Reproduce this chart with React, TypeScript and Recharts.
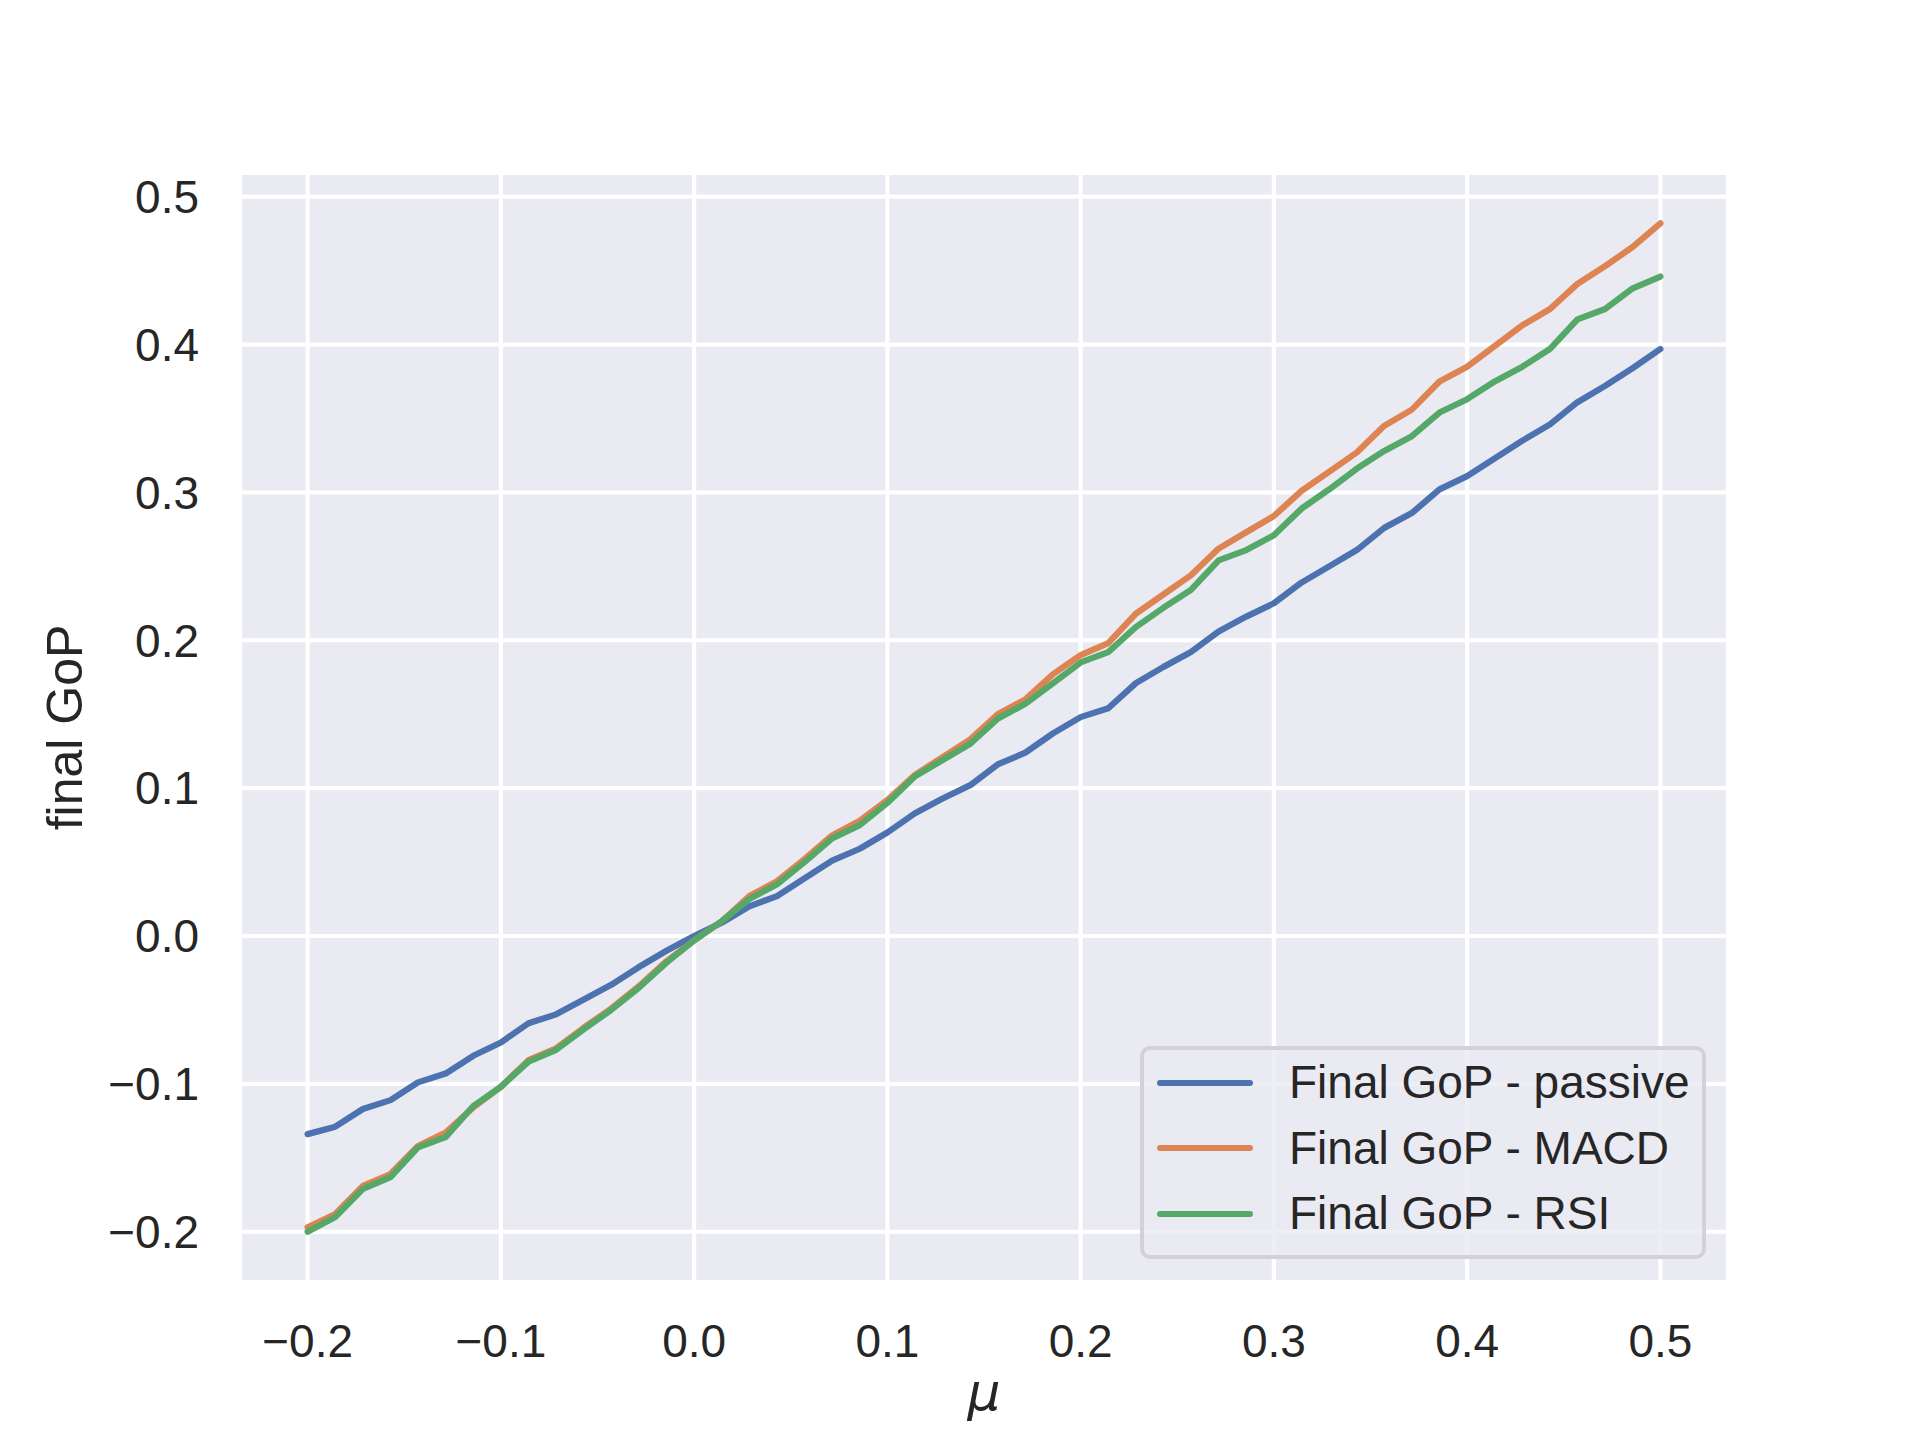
import React from "react";
import {
  LineChart,
  Line,
  XAxis,
  YAxis,
  CartesianGrid,
  Label,
} from "recharts";

// mu values on the x axis (50 steps of 1/70 from -0.2 to 0.5)
const mu = [
  -0.2, -0.1857, -0.1714, -0.1571, -0.1429, -0.1286, -0.1143, -0.1, -0.0857,
  -0.0714, -0.0571, -0.0429, -0.0286, -0.0143, 0, 0.0143, 0.0286, 0.0429,
  0.0571, 0.0714, 0.0857, 0.1, 0.1143, 0.1286, 0.1429, 0.1571, 0.1714, 0.1857,
  0.2, 0.2143, 0.2286, 0.2429, 0.2571, 0.2714, 0.2857, 0.3, 0.3143, 0.3286,
  0.3429, 0.3571, 0.3714, 0.3857, 0.4, 0.4143, 0.4286, 0.4429, 0.4571, 0.4714,
  0.4857, 0.5,
];

const passive = [
  -0.134, -0.129, -0.117, -0.111, -0.099, -0.093, -0.081, -0.072, -0.059,
  -0.053, -0.043, -0.033, -0.021, -0.01, 0.0, 0.009, 0.02, 0.027, 0.039, 0.051,
  0.059, 0.07, 0.083, 0.093, 0.102, 0.116, 0.124, 0.137, 0.148, 0.154, 0.171,
  0.182, 0.192, 0.206, 0.216, 0.225, 0.239, 0.25, 0.261, 0.276, 0.286, 0.302,
  0.311, 0.323, 0.335, 0.346, 0.361, 0.372, 0.384, 0.397,
];

const macd = [
  -0.197, -0.188, -0.169, -0.161, -0.142, -0.133, -0.116, -0.102, -0.084,
  -0.076, -0.062, -0.049, -0.034, -0.017, -0.003, 0.01, 0.027, 0.037, 0.052,
  0.068, 0.078, 0.092, 0.109, 0.121, 0.133, 0.15, 0.16, 0.177, 0.19, 0.198,
  0.218, 0.231, 0.244, 0.262, 0.273, 0.284, 0.301, 0.314, 0.327, 0.345, 0.356,
  0.375, 0.385, 0.399, 0.413, 0.424, 0.441, 0.453, 0.466, 0.482,
];

const rsi = [
  -0.2, -0.19, -0.171, -0.163, -0.143, -0.136, -0.115, -0.102, -0.085, -0.077,
  -0.063, -0.05, -0.035, -0.018, -0.003, 0.01, 0.025, 0.035, 0.05, 0.066,
  0.075, 0.09, 0.108, 0.119, 0.13, 0.147, 0.157, 0.171, 0.185, 0.192, 0.209,
  0.222, 0.234, 0.254, 0.261, 0.271, 0.289, 0.302, 0.316, 0.328, 0.338, 0.354,
  0.363, 0.375, 0.385, 0.397, 0.417, 0.424, 0.438, 0.446,
];

const xTicks = [-0.2, -0.1, 0, 0.1, 0.2, 0.3, 0.4, 0.5];
const yTicks = [-0.2, -0.1, 0, 0.1, 0.2, 0.3, 0.4, 0.5];

const series = [
  { key: "passive", name: "Final GoP - passive", color: "#4c72b0" },
  { key: "macd", name: "Final GoP - MACD", color: "#dd8452" },
  { key: "rsi", name: "Final GoP - RSI", color: "#55a868" },
];

const data = mu.map((m, i) => ({
  mu: m,
  passive: passive[i],
  macd: macd[i],
  rsi: rsi[i],
}));

const FONT = "'Liberation Sans', Arial, Helvetica, sans-serif";
const TEXT = "#262626";

const fmt = (v: number) => (v < 0 ? "\u2212" : "") + Math.abs(v).toFixed(1);

function ChartLegend() {
  return (
    <div
      style={{
        position: "absolute",
        left: 1140,
        top: 1046,
        width: 566,
        height: 213,
        boxSizing: "border-box",
        border: "4px solid rgba(204,204,204,0.8)",
        borderRadius: 10,
        background: "rgba(234,234,242,0.8)",
        fontFamily: FONT,
        fontSize: 46,
        color: TEXT,
      }}
    >
      {series.map((s) => (
        <div
          key={s.key}
          style={{ display: "flex", alignItems: "center", height: 65.5 }}
        >
          <div
            style={{
              marginLeft: 13,
              width: 96,
              height: 6.25,
              borderRadius: 3,
              background: s.color,
            }}
          />
          <span style={{ marginLeft: 36, lineHeight: "65.5px", whiteSpace: "nowrap" }}>
            {s.name}
          </span>
        </div>
      ))}
    </div>
  );
}

export default function App() {
  return (
    <div
      style={{
        position: "absolute",
        left: 0,
        top: 0,
        width: 1920,
        height: 1440,
        background: "#ffffff",
      }}
    >
      <LineChart
        width={1920}
        height={1440}
        data={data}
        margin={{ top: 173, right: 192, bottom: 0, left: 0 }}
      >
        <CartesianGrid
          fill="#eaeaf2"
          stroke="#ffffff"
          strokeWidth={4.2}
          strokeDasharray=""
        />
        <XAxis
          dataKey="mu"
          type="number"
          domain={[-0.235, 0.535]}
          ticks={xTicks}
          allowDataOverflow
          height={158}
          axisLine={false}
          tickLine={false}
          tickSize={0}
          tickMargin={42}
          tickFormatter={fmt}
          tick={{ fill: TEXT, fontSize: 46, fontFamily: FONT }}
        >
          <Label
            content={({ viewBox }: any) => (
              <text
                x={viewBox.x + viewBox.width / 2}
                y={1410}
                textAnchor="middle"
                fill={TEXT}
                fontSize={52}
                fontStyle="italic"
                fontFamily="'DejaVu Sans', sans-serif"
              >
                μ
              </text>
            )}
          />
        </XAxis>
        <YAxis
          type="number"
          domain={[-0.234, 0.516]}
          ticks={yTicks}
          allowDataOverflow
          width={240}
          axisLine={false}
          tickLine={false}
          tickSize={0}
          tickMargin={41}
          tickFormatter={fmt}
          tick={{ fill: TEXT, fontSize: 46, fontFamily: FONT }}
        >
          <Label
            content={({ viewBox }: any) => {
              const cy = viewBox.y + viewBox.height / 2;
              return (
                <text
                  x={82}
                  y={cy}
                  transform={`rotate(-90, 82, ${cy})`}
                  textAnchor="middle"
                  fill={TEXT}
                  fontSize={50}
                  fontFamily={FONT}
                >
                  final GoP
                </text>
              );
            }}
          />
        </YAxis>
        {series.map((s) => (
          <Line
            key={s.key}
            type="linear"
            dataKey={s.key}
            name={s.name}
            stroke={s.color}
            strokeWidth={6.25}
            strokeLinecap="round"
            strokeLinejoin="round"
            dot={false}
            activeDot={false}
            isAnimationActive={false}
          />
        ))}
      </LineChart>
      <ChartLegend />
    </div>
  );
}
